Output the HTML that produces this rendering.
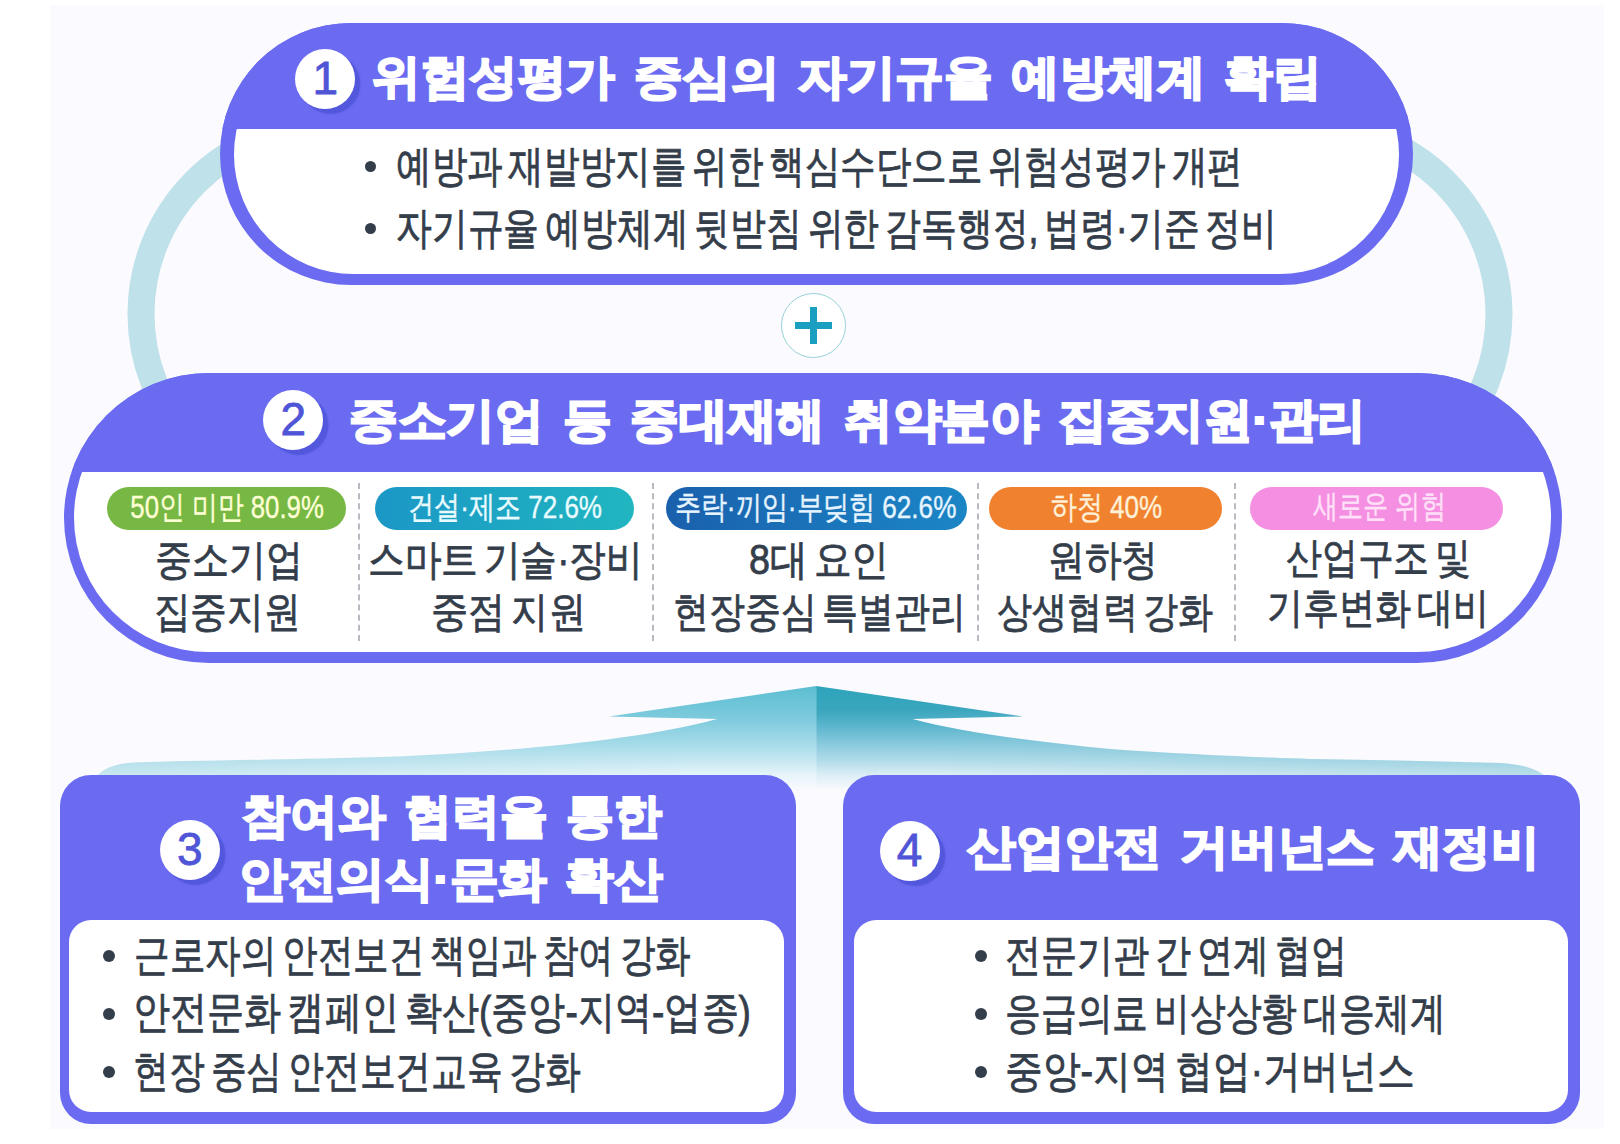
<!DOCTYPE html>
<html lang="ko">
<head>
<meta charset="utf-8">
<title>중대재해 감축 로드맵</title>
<style>
*{box-sizing:border-box;margin:0;padding:0}
html,body{width:1620px;height:1144px;background:#fff;overflow:hidden}
body{position:relative;font-family:"Liberation Sans",sans-serif;color:#343d4a}
.panel{position:absolute;left:50px;top:5px;width:1553.5px;height:1123.5px;background:#fbfafe}
.abs{position:absolute}
svg.bg{position:absolute;left:0;top:0;width:1620px;height:1144px}
/* generic text line */
.t{position:absolute;white-space:nowrap;line-height:1}
.t>span{display:inline-block;transform-origin:left center}
.t.c{display:flex;justify-content:center}
.t.c>span{flex:none;transform-origin:center center}
/* purple boxes */
.pill{position:absolute;background:#6a6bf0;overflow:hidden}
.pill .white{position:absolute;background:#fff}
.pill .head{position:absolute;left:0;top:0;width:100%;background:#6a6bf0}
.num{position:absolute;width:60px;height:60px;border-radius:50%;background:#fff;box-shadow:5.5px 5px 1.5px #5257dc;color:#4f55d6;font-size:46px;line-height:59px;text-align:center;-webkit-text-stroke:0.8px #4f55d6}
.title{word-spacing:5px;color:#fff;font-weight:bold;font-size:47px;-webkit-text-stroke:2.2px #fff}
.body{word-spacing:-5px;font-size:44px;color:#343d4a;-webkit-text-stroke:0.8px #343d4a}
.col{font-size:42px}
.dot{position:absolute;width:11px;height:11px;border-radius:50%;background:#343d4a}
.tag{position:absolute;height:43px;border-radius:22px;top:487px}
.tagt{font-size:32px;-webkit-text-stroke:0.4px currentColor}
.sep{position:absolute;top:483px;height:158px;width:0;border-left:2px dashed #b9b9c2}
.card{position:absolute;background:#6a6bf0;border-radius:31px}
.card .white{position:absolute;background:#fff;border-radius:22px}
</style>
</head>
<body>
<div class="panel"></div>

<!-- ring + arrow -->
<svg class="bg" viewBox="0 0 1620 1144" xmlns="http://www.w3.org/2000/svg">
  <defs>
    <linearGradient id="gl" x1="0" y1="686" x2="0" y2="800" gradientUnits="userSpaceOnUse">
      <stop offset="0" stop-color="#5cbed1"/>
      <stop offset="0.30" stop-color="#7fcbdd"/>
      <stop offset="0.52" stop-color="#a8dcea"/>
      <stop offset="0.69" stop-color="#cfebf4"/>
      <stop offset="0.78" stop-color="#e6f4fa"/>
      <stop offset="0.92" stop-color="#fbfafe"/>
    </linearGradient>
    <linearGradient id="gr" x1="0" y1="686" x2="0" y2="800" gradientUnits="userSpaceOnUse">
      <stop offset="0" stop-color="#2da4bb"/>
      <stop offset="0.21" stop-color="#3aa6be"/>
      <stop offset="0.34" stop-color="#58b4cc"/>
      <stop offset="0.52" stop-color="#8ccbde"/>
      <stop offset="0.69" stop-color="#bce0ec"/>
      <stop offset="0.78" stop-color="#dceef6"/>
      <stop offset="0.92" stop-color="#fbfafe"/>
    </linearGradient>
    <linearGradient id="hl" x1="96" y1="0" x2="700" y2="0" gradientUnits="userSpaceOnUse">
      <stop offset="0" stop-color="#8fcfdc" stop-opacity="0.34"/>
      <stop offset="1" stop-color="#8fcfdc" stop-opacity="0"/>
    </linearGradient>
    <linearGradient id="hr" x1="1547" y1="0" x2="930" y2="0" gradientUnits="userSpaceOnUse">
      <stop offset="0" stop-color="#7cc4d4" stop-opacity="0.36"/>
      <stop offset="1" stop-color="#7cc4d4" stop-opacity="0"/>
    </linearGradient>
  </defs>
  <rect x="141" y="127" width="1358" height="374" rx="187" ry="187" fill="none" stroke="#bee1ea" stroke-width="27"/>
  <path d="M816.2 686 L609 716.6 L717 719 C640 740 520 750.5 400 756.5 C300 759.5 200 760.5 135 762.5 Q104 764 96 778 L96 800 L816.2 800 Z" fill="url(#gl)"/>
  <path d="M816.2 686 L609 716.6 L717 719 C640 740 520 750.5 400 756.5 C300 759.5 200 760.5 135 762.5 Q104 764 96 778 L96 800 L816.2 800 Z" fill="url(#hl)"/>
  <path d="M816.2 686 L1022.5 716.5 L912.5 719 C960 732 1040 742.5 1110 749 C1180 754 1260 757.5 1310 759 C1400 760.5 1450 761.5 1500 763 Q1535 765 1547 778 L1547 800 L816.2 800 Z" fill="url(#gr)"/>
  <path d="M816.2 686 L1022.5 716.5 L912.5 719 C960 732 1040 742.5 1110 749 C1180 754 1260 757.5 1310 759 C1400 760.5 1450 761.5 1500 763 Q1535 765 1547 778 L1547 800 L816.2 800 Z" fill="url(#hr)"/>
</svg>

<!-- plus -->
<div class="abs" style="left:781px;top:293px;width:65px;height:65px;border-radius:50%;background:#fff;border:1.6px solid #98d2d9"></div>
<div class="abs" style="left:795px;top:321.5px;width:37px;height:7.5px;background:#1a9fc0"></div>
<div class="abs" style="left:809.8px;top:306.5px;width:7.5px;height:37px;background:#1a9fc0"></div>

<!-- BOX 1 -->
<div class="pill" style="left:220px;top:23px;width:1193px;height:262px;border-radius:131px">
  <div class="white" style="left:14px;top:12px;right:14px;bottom:11.5px;border-radius:120px"></div>
  <div class="head" style="height:106px"></div>
</div>

<!-- BOX 2 -->
<div class="pill" style="left:64px;top:373px;width:1498px;height:290px;border-radius:145px">
  <div class="white" style="left:10px;top:10px;right:11px;bottom:11px;border-radius:135px"></div>
  <div class="head" style="height:99px"></div>
</div>


<!-- BOX 1 text -->
<div class="num" style="left:295.4px;top:48.7px">1</div>
<div class="t title" id="t1" style="left:371.6px;top:53.0px;height:50px"><span style="transform:scaleX(1.034)">위험성평가 중심의 자기규율 예방체계 확립</span></div>
<div class="dot" style="left:365px;top:161px"></div>
<div class="t body" id="b11" style="left:396.0px;top:143.6px"><span style="transform:scaleX(0.808)">예방과 재발방지를 위한 핵심수단으로 위험성평가 개편</span></div>
<div class="dot" style="left:365px;top:223px"></div>
<div class="t body" id="b12" style="left:396.0px;top:206.0px"><span style="transform:scaleX(0.814)">자기규율 예방체계 뒷받침 위한 감독행정, 법령·기준 정비</span></div>

<!-- BOX 2 text -->
<div class="num" style="left:263.2px;top:389.5px">2</div>
<div class="t title" id="t2" style="left:348.8px;top:395.6px;height:50px"><span style="transform:scaleX(1.037)">중소기업 등 중대재해 취약분야 집중지원·관리</span></div>

<div class="tag" style="left:107px;width:239px;background:#76b843"></div>
<div class="tag" style="left:375px;width:259px;background:linear-gradient(90deg,#1b97c6,#20b6c0)"></div>
<div class="tag" style="left:666px;width:301px;background:linear-gradient(90deg,#1a60ad,#1b86c5)"></div>
<div class="tag" style="left:989px;width:233px;background:#f0812f"></div>
<div class="tag" style="left:1250px;width:253px;background:#f58fe2"></div>

<div class="t c tagt" id="g1" style="top:490.6px;left:107.1px;width:239px;color:#ffffd6"><span style="transform:scaleX(0.806)">50인 미만 80.9%</span></div>
<div class="t c tagt" id="g2" style="top:490.6px;left:375.7px;width:259px;color:#e9fbff"><span style="transform:scaleX(0.813)">건설·제조 72.6%</span></div>
<div class="t c tagt" id="g3" style="top:490.6px;left:665.2px;width:301px;color:#e6f4ff"><span style="transform:scaleX(0.817)">추락·끼임·부딪힘 62.6%</span></div>
<div class="t c tagt" id="g4" style="top:490.6px;left:989.5px;width:233px;color:#fff0d8"><span style="transform:scaleX(0.813)">하청 40%</span></div>
<div class="t c tagt" id="g5" style="top:490.2px;left:1252.8px;width:253px;color:#ffe0f8"><span style="transform:scaleX(0.785)">새로운 위험</span></div>

<div class="sep" style="left:357.5px"></div>
<div class="sep" style="left:652px"></div>
<div class="sep" style="left:977px"></div>
<div class="sep" style="left:1234px"></div>

<div class="t c body col" id="c11" style="left:109.1px;width:239px;top:539.4px"><span style="transform:scaleX(0.882)">중소기업</span></div>
<div class="t c body col" id="c12" style="left:107.6px;width:239px;top:590.8px"><span style="transform:scaleX(0.875)">집중지원</span></div>
<div class="t c body col" id="c21" style="left:359.5px;width:292px;top:539.4px"><span style="transform:scaleX(0.873)">스마트 기술·장비</span></div>
<div class="t c body col" id="c22" style="left:362.8px;width:292px;top:590.8px"><span style="transform:scaleX(0.886)">중점 지원</span></div>
<div class="t c body col" id="c31" style="left:657.7px;width:322px;top:539.4px"><span style="transform:scaleX(0.898)">8대 요인</span></div>
<div class="t c body col" id="c32" style="left:658.0px;width:322px;top:590.8px"><span style="transform:scaleX(0.856)">현장중심 특별관리</span></div>
<div class="t c body col" id="c41" style="left:975.8px;width:254px;top:539.4px"><span style="transform:scaleX(0.876)">원하청</span></div>
<div class="t c body col" id="c42" style="left:978.6px;width:254px;top:590.8px"><span style="transform:scaleX(0.835)">상생협력 강화</span></div>
<div class="t c body col" id="c51" style="left:1237.9px;width:280px;top:536.6px"><span style="transform:scaleX(0.856)">산업구조 및</span></div>
<div class="t c body col" id="c52" style="left:1238.4px;width:280px;top:587.4px"><span style="transform:scaleX(0.859)">기후변화 대비</span></div>

<!-- BOX 3 -->
<div class="card" style="left:60px;top:775px;width:736px;height:349px">
  <div class="white" style="left:9px;top:145px;right:12px;bottom:12px"></div>
</div>
<!-- BOX 4 -->
<div class="card" style="left:843px;top:775px;width:737px;height:349px">
  <div class="white" style="left:11px;top:145px;right:12px;bottom:12px"></div>
</div>

<!-- BOX 3 text -->
<div class="num" style="left:159.9px;top:820.4px">3</div>
<div class="t title" id="t31" style="left:241.8px;top:792.2px;height:50px"><span style="transform:scaleX(1.019)">참여와 협력을 통한</span></div>
<div class="t title" id="t32" style="left:238.8px;top:855.0px;height:50px"><span style="transform:scaleX(1.034)">안전의식·문화 확산</span></div>
<div class="dot" style="left:103px;top:950px;width:12px;height:12px"></div>
<div class="dot" style="left:103px;top:1008px;width:12px;height:12px"></div>
<div class="dot" style="left:103px;top:1066px;width:12px;height:12px"></div>
<div class="t body" id="b31" style="left:134.4px;top:933.2px"><span style="transform:scaleX(0.808)">근로자의 안전보건 책임과 참여 강화</span></div>
<div class="t body" id="b32" style="left:133.4px;top:990.0px"><span style="transform:scaleX(0.843)">안전문화 캠페인 확산(중앙-지역-업종)</span></div>
<div class="t body" id="b33" style="left:133.4px;top:1049.0px"><span style="transform:scaleX(0.814)">현장 중심 안전보건교육 강화</span></div>

<!-- BOX 4 text -->
<div class="num" style="left:879.6px;top:821.3px">4</div>
<div class="t title" id="t4" style="left:967.4px;top:823.0px;height:50px"><span style="transform:scaleX(1.035)">산업안전 거버넌스 재정비</span></div>
<div class="dot" style="left:975px;top:950px;width:12px;height:12px"></div>
<div class="dot" style="left:975px;top:1008px;width:12px;height:12px"></div>
<div class="dot" style="left:975px;top:1066px;width:12px;height:12px"></div>
<div class="t body" id="b41" style="left:1005.4px;top:933.2px"><span style="transform:scaleX(0.820)">전문기관 간 연계 협업</span></div>
<div class="t body" id="b42" style="left:1005.4px;top:991.0px"><span style="transform:scaleX(0.813)">응급의료 비상상황 대응체계</span></div>
<div class="t body" id="b43" style="left:1005.4px;top:1049.0px"><span style="transform:scaleX(0.859)">중앙-지역 협업·거버넌스</span></div>

</body>
</html>
